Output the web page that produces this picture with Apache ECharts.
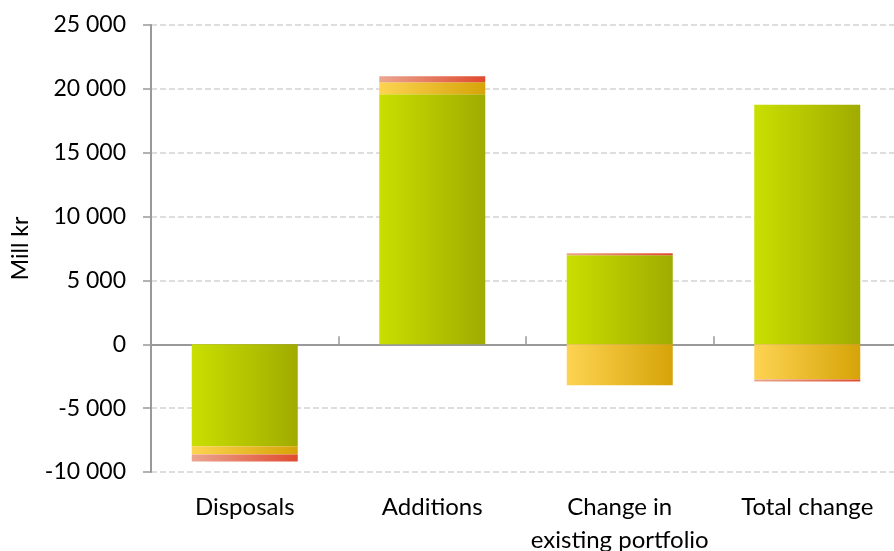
<!DOCTYPE html>
<html>
<head>
<meta charset="utf-8">
<script src="https://cdn.jsdelivr.net/npm/echarts@6/dist/echarts.min.js"></script>
<style>
html,body{margin:0;padding:0;background:#fff;overflow:hidden;}
#chart{width:894px;height:551px;}
</style>
</head>
<body>
<div id="chart"></div>
<script>
const categories = ['Disposals', 'Additions', 'Change in\nexisting portfolio', 'Total change'];
const seriesGreen = [-7990, 19580, 6970, 18750];
const seriesYellow = [-630, 940, -3200, -2750];
const seriesRed = [-550, 470, 150, -170];
const yTicks = { min: -10000, max: 25000, interval: 5000 };

function grad(c1, c2) {
  return new echarts.graphic.LinearGradient(0, 0, 1, 0, [
    { offset: 0, color: c1 }, { offset: 1, color: c2 }
  ]);
}
function fmt(v) {
  const s = Math.abs(v).toString().replace(/\B(?=(\d{3})+(?!\d))/g, ' ');
  return (v < 0 ? '-' : '') + s;
}
const FONT = 'Lato';
const chart = echarts.init(document.getElementById('chart'), null, { renderer: 'canvas' });
const barW = 106;
chart.setOption({
  animation: false,
  backgroundColor: '#fff',
  grid: { left: 151, right: -7, top: 25, bottom: 79, containLabel: false, outerBoundsMode: 'none' },
  xAxis: [
    {
      type: 'category', data: categories,
      axisLine: { onZero: true, lineStyle: { color: '#999', width: 2 } },
      axisTick: { show: true, inside: true, length: 8, lineStyle: { color: '#999', width: 1.5 } },
      axisLabel: { show: false },
      splitLine: { show: false }
    },
    {
      type: 'category', data: categories, position: 'bottom',
      axisLine: { show: false, onZero: false }, axisTick: { show: false },
      axisLabel: { show: true, margin: 19, lineHeight: 33, fontFamily: FONT, fontSize: 24, color: '#000', interval: 0 },
      splitLine: { show: false }
    }
  ],
  yAxis: {
    type: 'value', min: yTicks.min, max: yTicks.max, interval: yTicks.interval,
    name: 'Mill kr', nameLocation: 'middle', nameRotate: 90, nameGap: 119,
    nameTextStyle: { fontFamily: FONT, fontSize: 23, color: '#000' },
    axisLine: { show: true, onZero: false, lineStyle: { color: '#999', width: 2 } },
    axisTick: { show: true, length: 8, lineStyle: { color: '#999', width: 1.5 } },
    axisLabel: { margin: 25, fontFamily: FONT, fontSize: 23, color: '#000', formatter: fmt },
    splitLine: { show: true, lineStyle: { color: '#d4d4d4', width: 1.5, type: [6, 3] } }
  },
  series: [
    { name: 'Green', type: 'bar', stack: 's', data: seriesGreen, barWidth: barW,
      itemStyle: { color: grad('#c9df00', '#a0ab00') } },
    { name: 'Yellow', type: 'bar', stack: 's', data: seriesYellow, barWidth: barW,
      itemStyle: { color: grad('#fdd352', '#d6a408') } },
    { name: 'Red', type: 'bar', stack: 's', data: seriesRed, barWidth: barW,
      itemStyle: { color: grad('#eba690', '#e04a2e') } }
  ]
});
</script>
</body>
</html>
